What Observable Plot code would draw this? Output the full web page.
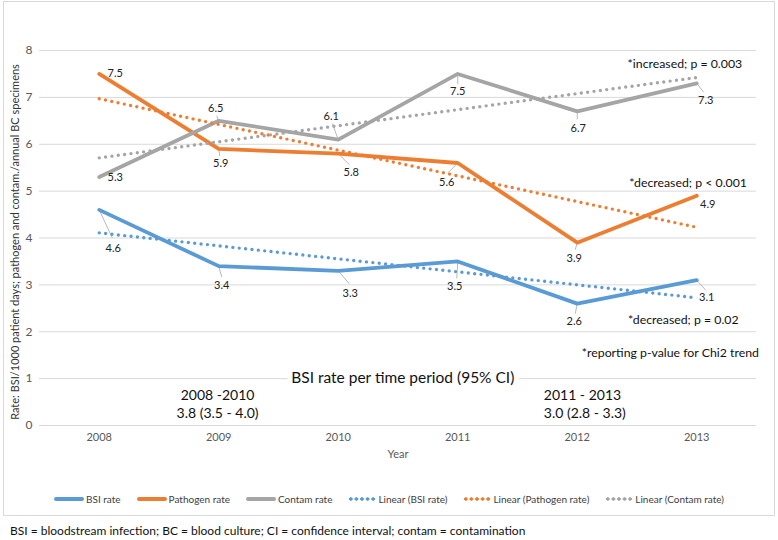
<!DOCTYPE html>
<html>
<head>
<meta charset="utf-8">
<script src="https://cdn.jsdelivr.net/npm/d3@7"></script>
<script src="https://cdn.jsdelivr.net/npm/@observablehq/plot@0.6"></script>
<style>
  body { margin: 0; background: #fff; font-family: Lato, sans-serif; }
  #wrap { position: relative; width: 778px; height: 540px; overflow: hidden; background: #fff; }
  #box { position: absolute; left: 3px; top: 1px; width: 772px; height: 515px; border: 1px solid #d9d9d9; box-sizing: border-box; }
  #chart { position: absolute; left: 0; top: 0; }
  #legend { position: absolute; top: 491px; left: 0; width: 778px; display: flex; justify-content: center; gap: 16px; font-size: 10px; color: #404040; line-height: 16px; }
  .item { display: flex; align-items: center; gap: 2px; }
  .solid { width: 30px; height: 4px; border-radius: 2px; }
  .dotted { width: 28px; height: 4px; background-size: 5.6px 4px; background-repeat: repeat-x; }
  #footer { position: absolute; left: 10px; top: 522px; font-size: 12px; color: #111; line-height: 18px; white-space: nowrap; }
</style>
</head>
<body>
<div id="wrap">
  <div id="box"></div>
  <div id="chart"></div>
  <div id="legend"></div>
  <div id="footer"></div>
</div>
<script>
// ---- data ----
const years = [2008, 2009, 2010, 2011, 2012, 2013];
const bsiRate = [4.6, 3.4, 3.3, 3.5, 2.6, 3.1];
const pathogenRate = [7.5, 5.9, 5.8, 5.6, 3.9, 4.9];
const contamRate = [5.3, 6.5, 6.1, 7.5, 6.7, 7.3];
const seriesNames = ["BSI rate", "Pathogen rate", "Contam rate"];
const seriesColors = ["#5b9bd5", "#ed7d31", "#a5a5a5"];
const yTicks = [0, 1, 2, 3, 4, 5, 6, 7, 8];
const yTitle = "Rate: BSI/1000 patient days; pathogen and contam./annual BC specimens";
const xTitle = "Year";
const footerText = "BSI = bloodstream infection; BC = blood culture; CI = confidence interval; contam = contamination";

// data-label placement (pixel offsets: label dx, dy, leader end dx, dy)
const labelOffsets = [
  [[14, 39, 13, 28], [3, 19, 3, 11], [12, 23, 11, 13], [-3, 25, -1, 17], [-3, 18, -2, 10], [10, 17, 9, 10]],
  [[16, 0, 0, 0], [2, 15, 1, 7], [13, 19, 11, 11], [-11, 19, -10, 10], [-3, 16, -2, 7], [11, 9, 0, 0]],
  [[16, 0, 0, 0], [-3, -12, -2, -5], [-7, -23, -6, -16], [0, 18, 0, 10], [1, 17, 0, 8], [9, 17, 7, 9]]
];

// annotations (data coordinates)
const trendNotes = [
  {text: "*increased; p = 0.003", x: 2013.38, y: 7.72},
  {text: "*decreased; p < 0.001", x: 2013.42, y: 5.18},
  {text: "*decreased; p = 0.02", x: 2013.35, y: 2.26},
  {text: "*reporting p-value for Chi2 trend", x: 2013.52, y: 1.54}
];
const periodTitle = {text: "BSI rate per time period (95% CI)", x: 2010.54, y: 1.02};
const periodNotesLeft = [
  {text: "2008 -2010", x: 2008.99, y: 0.64},
  {text: "3.8 (3.5 - 4.0)", x: 2008.99, y: 0.26}
];
const periodNotesRight = [
  {text: "2011 - 2013", x: 2011.72, y: 0.64},
  {text: "3.0 (2.8 - 3.3)", x: 2011.72, y: 0.26}
];

// ---- build ----
const W = 778, H = 470, ML = 39, MR = 22, MT = 50, MB = 45;
const pxX = (W - ML - MR) / years.length;
const pxY = (H - MT - MB) / (yTicks[yTicks.length - 1] - yTicks[0]);

const seriesValues = [bsiRate, pathogenRate, contamRate];
const rows = [];
seriesValues.forEach((vals, s) => vals.forEach((v, i) => {
  const o = labelOffsets[s][i];
  rows.push({series: seriesNames[s], s, year: years[i], value: v,
    lx: years[i] + o[0] / pxX, ly: v - o[1] / pxY,
    ex: years[i] + o[2] / pxX, ey: v - o[3] / pxY, leader: (o[2] !== 0 || o[3] !== 0)});
}));

const marks = [
  Plot.gridY(yTicks, {stroke: "#d9d9d9", strokeOpacity: 1, strokeWidth: 1}),
  Plot.axisY(yTicks, {tickSize: 0, tickPadding: 7, fontSize: 12, color: "#595959", label: null}),
  Plot.axisX(years, {tickSize: 0, tickPadding: 8, fontSize: 11, color: "#595959", label: null, tickFormat: d => String(d)}),
  Plot.text([xTitle], {frameAnchor: "bottom", dy: 32, fontSize: 11, fill: "#595959"}),
  Plot.text([yTitle], {frameAnchor: "left", textAnchor: "middle", dx: -24, dy: 4, rotate: -90, fontSize: 11, fill: "#333"}),
  Plot.link(rows.filter(d => d.leader), {x1: "year", y1: "value", x2: "ex", y2: "ey", stroke: "#a6a6a6", strokeWidth: 0.8})
];
seriesNames.forEach((name, s) => {
  marks.push(Plot.line(rows.filter(d => d.s === s), {x: "year", y: "value", stroke: seriesColors[s], strokeWidth: 3.8, strokeLinejoin: "round"}));
});
seriesNames.forEach((name, s) => {
  marks.push(Plot.linearRegressionY(rows.filter(d => d.s === s), {x: "year", y: "value", stroke: seriesColors[s], strokeWidth: 3.4, strokeDasharray: "0 6.4", strokeLinecap: "round", ci: 0}));
});
marks.push(
  Plot.text(rows, {x: "lx", y: "ly", text: d => d.value.toFixed(1), fontSize: 11, fill: "#222"}),
  Plot.text(trendNotes, {x: "x", y: "y", text: "text", textAnchor: "end", fontSize: 12.3, fill: "#111"}),
  Plot.text([periodTitle], {x: "x", y: "y", text: "text", fontSize: 15.5, fill: "#111", stroke: "white", strokeWidth: 10, strokeLinejoin: "round", paintOrder: "stroke"}),
  Plot.text(periodNotesLeft, {x: "x", y: "y", text: "text", fontSize: 14, fill: "#111"}),
  Plot.text(periodNotesRight, {x: "x", y: "y", text: "text", textAnchor: "start", fontSize: 14, fill: "#111"})
);

const chart = Plot.plot({
  width: W, height: H,
  marginLeft: ML, marginRight: MR, marginTop: MT, marginBottom: MB,
  style: {fontFamily: "Lato, sans-serif", background: "transparent", overflow: "visible"},
  x: {type: "linear", domain: [years[0] - 0.5, years[years.length - 1] + 0.5]},
  y: {domain: [yTicks[0], yTicks[yTicks.length - 1]]},
  marks
});
document.getElementById("chart").appendChild(chart);

// legend
const legend = document.getElementById("legend");
const items = [
  ...seriesNames.map((n, s) => ({label: n, color: seriesColors[s], dotted: false})),
  ...seriesNames.map((n, s) => ({label: `Linear (${n})`, color: seriesColors[s], dotted: true}))
];
items.forEach(it => {
  const el = document.createElement("div");
  el.className = "item";
  const sw = document.createElement("span");
  if (it.dotted) {
    sw.className = "dotted";
    sw.style.backgroundImage = `radial-gradient(circle at 2.8px 2px, ${it.color} 1.5px, transparent 1.9px)`;
  } else {
    sw.className = "solid";
    sw.style.background = it.color;
  }
  const tx = document.createElement("span");
  tx.textContent = it.label;
  el.appendChild(sw); el.appendChild(tx);
  legend.appendChild(el);
});
document.getElementById("footer").textContent = footerText;
</script>
</body>
</html>
